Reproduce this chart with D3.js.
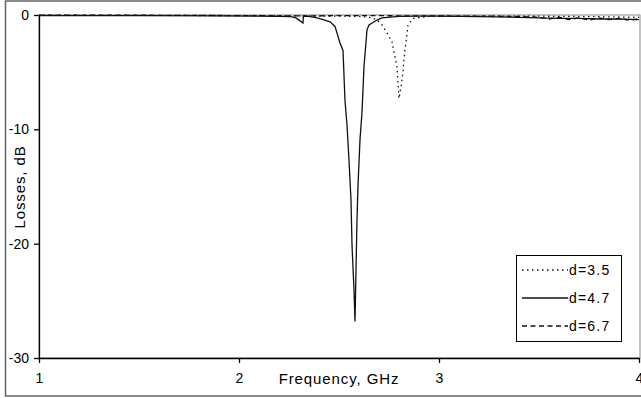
<!DOCTYPE html>
<html>
<head>
  <meta charset="UTF-8">
  <title>Losses vs frequency</title>
  <script src="https://d3js.org/d3.v7.min.js"></script>
  <style>
    body { margin: 0; background: #fff; }
    text { font-family: "Liberation Sans", Arial, sans-serif; fill: #000; }
  </style>
</head>
<body>
<svg id="svg1" width="641" height="398"></svg>
<script>

    // tick labels
    const xTicks = [1, 2, 3, 4];
    const yTicks = [0, -10, -20, -30];

    // d = 3.5 (dotted)
    const freq35 = [1.0, 1.5, 2.0, 2.3, 2.5, 2.6, 2.65, 2.69, 2.715, 2.74, 2.765, 2.78, 2.79, 2.795, 2.80, 2.81, 2.82, 2.825, 2.835, 2.845, 2.87, 2.95, 3.2, 3.5, 3.8, 4.0];
    const loss35 = [-0.02, -0.03, -0.05, -0.08, -0.1, -0.12, -0.2, -0.4, -0.87, -1.57, -2.36, -3.67, -4.55, -5.86, -7.3, -6.3, -5.0, -3.76, -2.36, -0.87, -0.3, -0.12, -0.1, -0.1, -0.15, -0.2];

    // d = 4.7 (solid)
    const freq47 = [1.0, 1.5, 1.9, 2.1, 2.2, 2.26, 2.285, 2.30, 2.32, 2.322, 2.35, 2.39, 2.42, 2.455, 2.48, 2.505, 2.52, 2.53, 2.54, 2.55, 2.56, 2.565, 2.575, 2.58, 2.585, 2.59, 2.595, 2.605, 2.615, 2.625, 2.64, 2.65, 2.69, 2.715, 2.8, 2.9, 3.0, 3.2, 3.4, 3.5, 3.6, 3.7, 3.8, 3.9, 4.0];
    const loss47 = [-0.05, -0.05, -0.08, -0.1, -0.12, -0.15, -0.26, -0.45, -0.7, -0.12, -0.12, -0.26, -0.4, -0.6, -1.0, -2.45, -3.1, -7.5, -9.6, -12.7, -16.2, -20.1, -24.1, -26.8, -22.3, -17.9, -14.9, -10.9, -8.5, -4.5, -1.3, -0.87, -0.44, -0.26, -0.12, -0.1, -0.1, -0.15, -0.2, -0.25, -0.3, -0.3, -0.35, -0.35, -0.4];

    // d = 6.7 (dashed)
    const freq67 = [1.0, 1.5, 2.0, 2.3, 2.6, 2.9, 3.2, 3.4, 3.5, 3.55, 3.6, 3.65, 3.7, 3.75, 3.8, 3.85, 3.9, 3.95, 4.0];
    const loss67 = [-0.02, -0.02, -0.05, -0.08, -0.05, -0.08, -0.1, -0.12, -0.2, -0.35, -0.2, -0.4, -0.25, -0.45, -0.25, -0.4, -0.3, -0.45, -0.35];

    const seriesNames = ["d=3.5", "d=4.7", "d=6.7"];

    const series = [
        { name: seriesNames[0], f: freq35, v: loss35, dash: "1.5,3.5" },
        { name: seriesNames[1], f: freq47, v: loss47, dash: null },
        { name: seriesNames[2], f: freq67, v: loss67, dash: "5,3.5" }
    ];

    const svg1 = d3.select("#svg1");
    const plotLeft = 39, plotRight = 639, plotTop = 15, plotBottom = 358;

    const xScale = d3.scaleLinear([1, 4], [plotLeft, plotRight]);
    const yScale = d3.scaleLinear([-30, 0], [plotBottom, plotTop]);

    // outer chart frame
    svg1.append("rect")
        .attr("x", 5.5).attr("y", 1)
        .attr("width", 700).attr("height", 395)
        .attr("fill", "none")
        .attr("stroke", "#666")
        .attr("stroke-width", 1.5);

    // plot area border (gray)
    svg1.append("rect")
        .attr("x", plotLeft).attr("y", plotTop)
        .attr("width", plotRight + 1 - plotLeft).attr("height", plotBottom - plotTop)
        .attr("fill", "none")
        .attr("stroke", "#888")
        .attr("stroke-width", 1);

    // axes (plain hyphen minus, integer labels)
    const plainFmt = d => String(d);

    let leftAxis = d3.axisLeft(yScale).tickValues(yTicks).tickFormat(plainFmt)
                     .tickSize(5).tickSizeOuter(0).tickPadding(5);
    let gy = svg1.append("g")
        .attr("transform", `translate(${plotLeft}, 0)`)
        .call(leftAxis);

    let bottomAxis = d3.axisBottom(xScale).tickValues(xTicks).tickFormat(plainFmt)
                       .tickSize(5).tickSizeOuter(0).tickPadding(10);
    let gx = svg1.append("g")
        .attr("transform", `translate(0, ${plotBottom})`)
        .call(bottomAxis);

    [gx, gy].forEach(g => {
        g.selectAll("path, line").attr("stroke", "#000").attr("stroke-width", 1.3);
        g.selectAll("text").style("font-size", "14px").attr("fill", "#000");
    });

    svg1.append("text")
        .attr("x", 339).attr("y", 384)
        .attr("text-anchor", "middle")
        .style("font-size", "15px")
        .style("letter-spacing", "0.9px")
        .text("Frequency, GHz");

    svg1.append("text")
        .attr("transform", "translate(25, 187) rotate(-90)")
        .attr("text-anchor", "middle")
        .style("font-size", "15px")
        .style("letter-spacing", "0.9px")
        .text("Losses, dB");

    // curves
    const line = d3.line()
        .x(d => xScale(d[0]))
        .y(d => yScale(d[1]));

    svg1.selectAll("path.series").data(series).join("path")
        .attr("class", "series")
        .attr("d", s => line(s.f.map((f, i) => [f, s.v[i]])))
        .attr("fill", "none")
        .attr("stroke", "#111")
        .attr("stroke-width", 1.3)
        .attr("stroke-dasharray", s => s.dash);

    // legend
    const legend = svg1.append("g").attr("transform", "translate(516, 255)");
    legend.append("rect")
        .attr("x", 0.5).attr("y", 0.5)
        .attr("width", 105).attr("height", 86)
        .attr("fill", "#fff")
        .attr("stroke", "#000");

    const items = legend.selectAll("g.item").data(series).join("g")
        .attr("class", "item")
        .attr("transform", (d, i) => `translate(0, ${15 + i * 28})`);

    items.append("line")
        .attr("x1", 6).attr("x2", 52)
        .attr("stroke", "#111")
        .attr("stroke-width", 1.3)
        .attr("stroke-dasharray", d => d.dash);

    items.append("text")
        .attr("x", 53).attr("y", 5)
        .style("font-size", "14px")
        .style("letter-spacing", "1.2px")
        .text(d => d.name);

</script>
</body>
</html>
